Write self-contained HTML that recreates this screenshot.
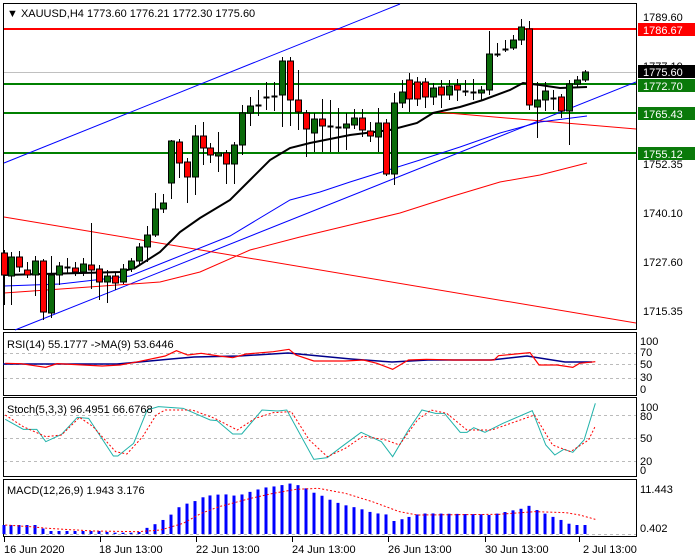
<!DOCTYPE html>
<html><head><meta charset="utf-8"><style>
html,body{margin:0;padding:0;background:#fff;}
svg{display:block;font-family:"Liberation Sans",sans-serif;}
</style></head><body>
<svg id="s" width="700" height="560" xmlns="http://www.w3.org/2000/svg">
<rect width="700" height="560" fill="#fff"/>
<rect x="3.5" y="3.5" width="633" height="326" fill="none" stroke="#000"/>
<rect x="3.5" y="332.5" width="633" height="63" fill="none" stroke="#000"/>
<rect x="3.5" y="397.5" width="633" height="79" fill="none" stroke="#000"/>
<rect x="3.5" y="479.5" width="633" height="57" fill="none" stroke="#000"/>
<g id="main"></g>
<g font-size="11" fill="#000">
<text x="7" y="17">▼ XAUUSD,H4  1773.60 1776.21 1772.30 1775.60</text>
<text x="643" y="21">1789.60</text>
<text x="643" y="168">1752.35</text>
<text x="643" y="217">1740.10</text>
<text x="643" y="266">1727.60</text>
<text x="643" y="315">1715.35</text>
<text x="643" y="70">1777.10</text>
<rect x="638" y="23" width="57" height="13" fill="#ff0000"/><text x="643" y="34" fill="#fff">1786.67</text>
<rect x="638" y="65" width="57" height="13" fill="#000"/><text x="643" y="76" fill="#fff">1775.60</text>
<rect x="638" y="79" width="57" height="13" fill="#0a7a0a"/><text x="643" y="90" fill="#fff">1772.70</text>
<rect x="638" y="107" width="57" height="13" fill="#0a7a0a"/><text x="643" y="118" fill="#fff">1765.43</text>
<rect x="638" y="147" width="57" height="13" fill="#0a7a0a"/><text x="643" y="158" fill="#fff">1755.12</text>
<text x="7" y="348">RSI(14) 55.1777  -&gt;MA(9) 53.6446</text>
<text x="640" y="345">100</text><text x="640" y="356">70</text><text x="640" y="368">50</text><text x="640" y="381">30</text><text x="640" y="393">0</text>
<text x="7" y="413">Stoch(5,3,3) 96.4951 66.6768</text>
<text x="640" y="411">100</text><text x="640" y="420">80</text><text x="640" y="442">50</text><text x="640" y="465">20</text><text x="640" y="474">0</text>
<text x="7" y="494">MACD(12,26,9) 1.943 3.176</text>
<text x="640" y="493">11.443</text><text x="640" y="532">0.402</text>
<text x="4" y="553">16 Jun 2020</text>
<text x="99" y="553">18 Jun 13:00</text>
<text x="196" y="553">22 Jun 13:00</text>
<text x="292" y="553">24 Jun 13:00</text>
<text x="388" y="553">26 Jun 13:00</text>
<text x="485" y="553">30 Jun 13:00</text>
<text x="583" y="553">2 Jul 13:00</text>
</g>
</svg>
<script>
(function(){
var NS="http://www.w3.org/2000/svg",g=document.getElementById("main");
function el(t,a){var e=document.createElementNS(NS,t);for(var k in a){if(a[k]!=="")e.setAttribute(k,a[k]);}g.appendChild(e);return e;}
function pl(pts,c,w,d){el("polyline",{points:pts.map(function(p){return p[0]+","+p[1]}).join(" "),fill:"none",stroke:c,"stroke-width":w||1,"stroke-dasharray":d||""});}
[353,364,378].forEach(function(y){el("line",{x1:4,x2:636,y1:y+.5,y2:y+.5,stroke:"#bbb","stroke-dasharray":"3,3"});});
[415,438,461].forEach(function(y){el("line",{x1:4,x2:636,y1:y+.5,y2:y+.5,stroke:"#bbb","stroke-dasharray":"3,3"});});
el("line",{x1:4,x2:636,y1:534.5,y2:534.5,stroke:"#bbb","stroke-dasharray":"3,3"});
el("line",{x1:4,x2:636,y1:72.5,y2:72.5,stroke:"#c0c0c0"});
el("line",{x1:4,x2:636,y1:29,y2:29,stroke:"#ff0000","stroke-width":2});
[84,113,153].forEach(function(y){el("line",{x1:4,x2:636,y1:y,y2:y,stroke:"#008000","stroke-width":2});});
el("line",{x1:4,y1:163,x2:400,y2:4,stroke:"#0000ff"});
el("line",{x1:15,y1:330,x2:636,y2:82,stroke:"#0000ff"});
el("line",{x1:4,y1:217,x2:636,y2:323,stroke:"#ff0000"});
el("line",{x1:436,y1:112,x2:636,y2:129,stroke:"#ff0000"});
pl([[4,293],[160,282],[200,272],[250,250],[300,237],[350,225],[400,213],[450,197],[500,182],[540,175],[587,163]],"#ff0000",1);
pl([[4,286],[60,284],[130,276],[170,260],[230,236],[290,200],[320,192],[350,182],[420,160],[460,147],[500,133],[540,122],[587,116]],"#0000ff",1);
pl([[4,275],[120,272],[135,268],[160,252],[180,232],[200,218],[230,200],[250,180],[270,160],[290,148],[310,143],[350,135],[390,130],[417,123],[433,113],[460,107],[483,100],[510,90],[523,83],[540,85],[560,88],[587,87]],"#000",2);
var C=[[253,275,250,305],[276,257,252,305],[257,267,251,272],[270,275,262,278],[275,261,256,296],[261,312,259,320],[313,275,256,318],[275,266,262,285],[267,267,258,273],[268,272,262,276],[272,264,258,276],[265,270,223,289],[269,282,265,300],[282,276,270,303],[276,283,272,290],[282,269,264,284],[269,261,258,272],[261,247,243,265],[247,235,226,262],[235,209,193,237],[209,203,194,213],[183,141,140,199],[142,163,139,178],[162,177,158,203],[177,136,125,195],[136,148,122,165],[148,155,143,163],[156,153,132,172],[153,164,150,184],[164,145,142,184],[145,113,105,155],[113,106,97,126],[105,105,90,116],[97,97,82,110],[96,96,82,111],[95,61,57,127],[61,100,57,126],[100,112,70,130],[113,129,110,157],[133,119,113,152],[119,126,99,152],[126,126,100,152],[127,127,108,152],[128,124,113,150],[125,118,109,129],[118,130,109,137],[131,136,122,142],[137,123,108,152],[123,174,119,176],[174,103,93,185],[103,92,80,108],[80,99,73,112],[82,99,77,106],[82,97,78,108],[97,88,83,105],[87,95,80,108],[95,86,80,100],[85,90,79,101],[91,91,80,96],[92,92,79,100],[93,90,86,100],[90,54,31,95],[54,54,43,57],[49,49,40,52],[48,40,35,50],[40,27,19,45],[29,105,21,110],[107,100,82,138],[100,91,82,111],[98,98,90,110],[97,111,94,118],[111,84,80,145],[84,80,76,88],[80,72,70,82]];
C.forEach(function(c,i){var x=Math.round(3.5+7.96*i)+.5,o=c[0],cl=c[1];
 el("line",{x1:x,x2:x,y1:c[2],y2:c[3],stroke:"#000"});
 var t=Math.min(o,cl),b=Math.max(o,cl);
 if(b-t<1){el("line",{x1:x-3,x2:x+3,y1:t+.5,y2:t+.5,stroke:"#000","stroke-width":2});}
 else el("rect",{x:x-3,y:t,width:6,height:b-t,fill:cl<o?"#0a6a0a":"#ff0000",stroke:"#000"});
});
function zx(a){return a.map(function(p){return [p[0]/2.22+3,p[1]/3+330]});}
pl([[3,364],[117,364],[171,359],[194,357],[239,356],[288,353],[351,359],[392,362],[428,360],[491,360],[527,356],[565,362],[592,362]],"#00008b",1.5);
pl(zx([[5,100],[40,101],[95,112],[120,101],[220,108],[260,105],[300,95],[360,78],[385,62],[410,75],[440,70],[480,78],[510,83],[540,72],[600,65],[635,58],[650,75],[690,93],[760,93],[800,90],[830,100],[865,118],[900,90],[940,88],[1000,90],[1090,90],[1100,77],[1170,68],[1190,105],[1230,105],[1265,112],[1280,100],[1315,95]]),"#ff0000",1.2);
pl(zx([[5,268],[45,298],[75,298],[95,335],[130,313],[165,262],[190,265],[245,378],[255,378],[290,340],[320,240],[345,230],[400,235],[460,270],[475,272],[510,312],[530,312],[575,240],[610,243],[630,240],[690,388],[720,383],[750,352],[795,307],[840,335],[865,380],[900,300],[930,240],[960,250],[980,250],[1015,307],[1030,307],[1045,293],[1070,307],[1110,280],[1175,242],[1205,345],[1225,375],[1245,358],[1265,367],[1290,330],[1315,220]]),"#20b2aa",1);
pl(zx([[5,255],[45,290],[95,320],[130,315],[170,262],[200,290],[250,365],[275,372],[310,320],[340,255],[360,240],[420,240],[470,265],[520,300],[560,265],[600,248],[640,245],[680,330],[720,380],[760,355],[800,318],[850,330],[880,345],[920,270],[950,240],[985,250],[1030,300],[1085,300],[1180,255],[1220,345],[1260,365],[1300,330],[1315,288]]),"#ff0000",1,"2,2");
var env=[[0,585],[80,585],[95,603],[220,603],[240,608],[300,608],[310,597],[330,590],[345,575],[365,565],[385,537],[400,523],[420,518],[437,505],[455,497],[490,492],[510,497],[527,495],[545,487],[562,480],[580,473],[598,470],[615,467],[633,460],[650,463],[670,473],[688,487],[705,495],[722,507],[740,517],[758,525],[775,530],[795,537],[812,545],[830,550],[850,553],[868,573],[885,568],[903,560],[920,553],[940,550],[1065,553],[1080,555],[1100,550],[1118,545],[1136,540],[1155,535],[1172,525],[1190,545],[1208,553],[1225,563],[1245,573],[1262,585],[1320,585]];
function topz(z){for(var k=1;k<env.length;k++){if(z<=env[k][0]){var a=env[k-1],b=env[k];return a[1]+(b[1]-a[1])*(z-a[0])/((b[0]-a[0])||1);}}return 585;}
for(var i=0;i<74;i++){var x=Math.round(3.5+7.96*i),z=(x-3)*2.22,t=topz(z)/3+330;el("rect",{x:x-1.5,y:t,width:3,height:534-t,fill:"#0000ff"});}
pl(zx([[5,585],[60,590],[100,595],[200,603],[300,605],[350,600],[400,580],[440,550],[480,530],[550,505],[600,490],[650,478],[700,475],[760,490],[820,515],[880,545],[920,555],[1100,553],[1180,545],[1250,548],[1280,555],[1315,568]]),"#ff0000",1,"2,2");
[4,100,196,292,388,485,579].forEach(function(x){el("line",{x1:x+.5,x2:x+.5,y1:537,y2:542,stroke:"#000"});});
})();
</script>
</body></html>
